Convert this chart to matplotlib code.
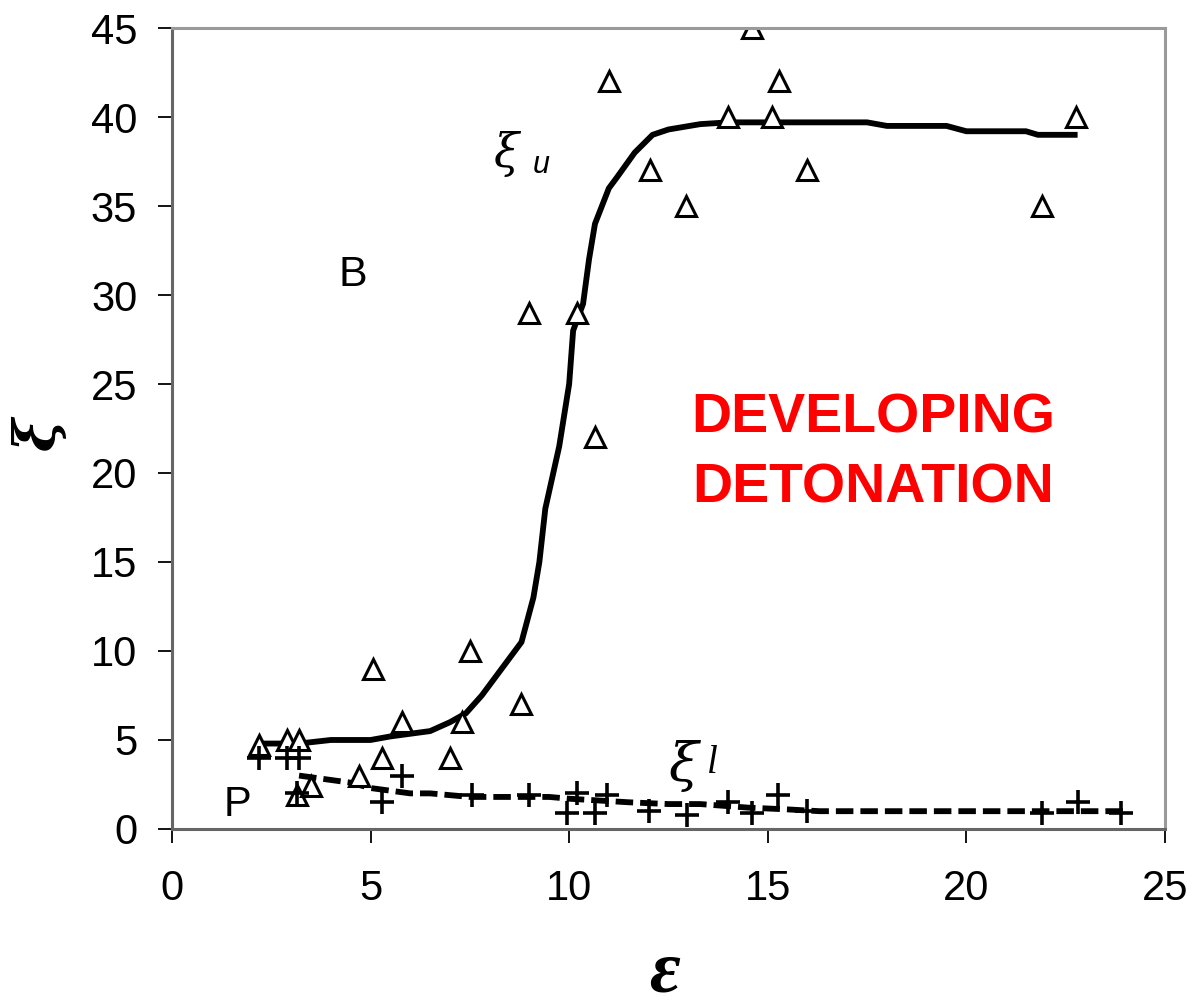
import matplotlib.pyplot as plt

# upper boundary points (triangles)
tri_x = [2.2, 2.9, 3.2, 3.15, 3.5, 4.7, 5.05, 5.3, 5.8, 7.0, 7.3, 7.5, 8.8, 9.0, 10.2,
         10.65, 11.0, 12.03, 12.94, 14.0, 14.6, 15.1, 15.28, 16.0, 21.9, 22.76]
tri_y = [4.7, 5, 5, 1.9, 2.4, 3, 9, 4, 6, 4, 6, 10, 7, 29, 29,
         22, 42, 37, 35, 40, 45, 40, 42, 37, 35, 40]

# lower boundary points (crosses)
crs_x = [2.2, 2.9, 3.2, 3.15, 5.3, 5.8, 7.55, 9.0, 10.2, 9.95, 10.65, 10.95, 12.0,
         12.96, 14.0, 14.6, 15.27, 16.0, 21.9, 22.8, 23.9]
crs_y = [4, 4, 4, 2, 1.5, 3, 1.9, 1.9, 2, 0.9, 0.9, 1.9, 1,
         0.8, 1.5, 0.9, 1.9, 1, 0.9, 1.5, 0.9]

# fitted curves
up_x = [2.2, 3.2, 4.0, 5.0, 5.5, 6.5, 7.0, 7.4, 7.8, 8.3, 8.8, 9.1, 9.25, 9.4, 9.75,
        10.0, 10.1, 10.35, 10.5, 10.65, 11.0, 11.2, 11.65, 12.1, 12.5, 13.3, 14.0,
        17.5, 18.0, 19.5, 20.0, 21.5, 21.8, 22.8]
up_y = [4.8, 4.8, 5.0, 5.0, 5.2, 5.5, 6.0, 6.5, 7.5, 9.0, 10.5, 13.0, 15.0, 18.0, 21.5,
        25.0, 28.0, 29.5, 32.0, 34.0, 36.0, 36.6, 38.0, 39.0, 39.3, 39.6, 39.7,
        39.7, 39.5, 39.5, 39.2, 39.2, 39.0, 39.0]

lo_x = [3.2, 4.5, 5.0, 6.0, 6.5, 7.5, 8.5, 9.5, 10.0, 11.5, 12.5, 13.3, 14.5, 15.5,
        16.3, 21.5, 24.0]
lo_y = [3.0, 2.6, 2.3, 2.0, 2.0, 1.8, 1.8, 1.8, 1.7, 1.5, 1.4, 1.4, 1.2, 1.1,
        1.0, 1.0, 1.0]

plt.rcParams['font.family'] = ['Liberation Sans', 'DejaVu Sans']

fig = plt.figure(figsize=(11.94, 10.08), dpi=100)
ax = fig.add_axes([0.144, 0.1776, 0.8317, 0.7946])

ax.plot(up_x, up_y, color='black', lw=4.2, solid_capstyle='butt')
ax.plot(lo_x, lo_y, color='black', lw=4.2, linestyle=(0, (3, 1.2)))
ax.plot(tri_x, tri_y, linestyle='none', marker='^', ms=15, mfc='white', mec='black', mew=2.2)
ax.plot(crs_x, crs_y, linestyle='none', marker='+', ms=17, mec='black', mew=2.6)

# curve labels
ax.text(8.08, 37.9, 'ξ', fontsize=33, family='DejaVu Serif', style='italic',
        ha='left', va='center')
ax.text(9.09, 37.3, 'u', fontsize=22, style='italic', ha='left', va='center')
ax.text(12.49, 3.5, 'ξ', fontsize=39, family='DejaVu Serif', style='italic',
        ha='left', va='center')
ax.text(13.47, 3.7, 'l', fontsize=28, family='Liberation Serif', style='italic',
        ha='left', va='center')
ax.text(4.56, 31.1, 'B', fontsize=31, ha='center', va='center')
ax.text(1.64, 1.35, 'P', fontsize=30, ha='center', va='center')
ax.text(17.65, 21.1, 'DEVELOPING\nDETONATION', fontsize=40, color='#ff0000',
        fontweight='bold', ha='center', va='center', linespacing=1.43)

ax.set_xlim(0, 25)
ax.set_ylim(0, 45)
ax.set_xticks(range(0, 26, 5))
ax.set_yticks(range(0, 46, 5))
ax.tick_params(axis='both', labelsize=30, direction='out', length=10, width=1.3,
               color='black')
ax.tick_params(axis='x', pad=19)
ax.tick_params(axis='y', pad=15)
for side in ['left', 'bottom']:
    ax.spines[side].set_color('#666666')
    ax.spines[side].set_linewidth(2.2)
for side in ['top', 'right']:
    ax.spines[side].set_color('#9a9a9a')
    ax.spines[side].set_linewidth(2.2)

ax.set_xlabel('ε', fontsize=54, family='Liberation Serif', style='italic',
              fontweight='bold', va='center', ha='center')
ax.xaxis.set_label_coords(0.4965, -0.181)
ax.set_ylabel('ξ', fontsize=40, family='DejaVu Serif', style='italic',
              fontweight='bold', va='center', ha='center', rotation=90)
ax.yaxis.set_label_coords(-0.134, 0.493)

fig.savefig('out.png', dpi=100)
